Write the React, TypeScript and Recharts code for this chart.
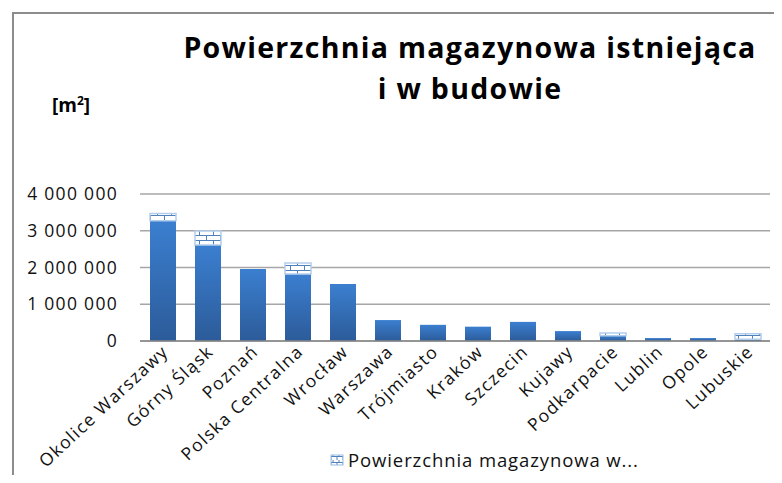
import React from "react"
import { BarChart, Bar, XAxis, YAxis, CartesianGrid, Legend } from "recharts"

const regions = [
  "Okolice Warszawy",
  "Górny Śląsk",
  "Poznań",
  "Polska Centralna",
  "Wrocław",
  "Warszawa",
  "Trójmiasto",
  "Kraków",
  "Szczecin",
  "Kujawy",
  "Podkarpacie",
  "Lublin",
  "Opole",
  "Lubuskie",
]

// istniejąca (existing)
const existing = [3270000, 2610000, 1960000, 1820000, 1550000, 570000, 440000, 390000, 520000, 270000, 140000, 80000, 80000, 50000]
// w budowie (under construction)
const underConstruction = [200000, 380000, 0, 300000, 0, 0, 0, 0, 0, 0, 80000, 0, 0, 150000]

const yTicks = [0, 1000000, 2000000, 3000000, 4000000]

const seriesExisting = "Powierzchnia magazynowa istniejąca"
const seriesBuilding = "Powierzchnia magazynowa w budowie"

const data = regions.map((name, i) => ({
  name,
  existing: existing[i],
  building: underConstruction[i],
}))

const FONT = "'Open Sans', sans-serif"

const formatNumber = (v: number) => String(v).replace(/\B(?=(\d{3})+(?!\d))/g, " ")

const RotatedTick = (props: any) => {
  const { x, y, payload } = props
  return (
    <text
      x={x + 7}
      y={y + 4}
      textAnchor="end"
      transform={`rotate(-43, ${x + 7}, ${y + 4})`}
      fontFamily={FONT}
      fontSize={17.5}
      letterSpacing={1.4}
      fill="#111"
    >
      {payload.value}
    </text>
  )
}

const LegendContent = () => (
  <div
    style={{
      display: "flex",
      alignItems: "center",
      paddingLeft: 330,
      height: 26,
      position: "relative",
      top: -6,
    }}
  >
    <svg width={15} height={13} style={{ marginRight: 3 }}>
      <rect x={1} y={1} width={12} height={10} fill="url(#brickLegend)" stroke="#9dbde3" />
    </svg>
    <span style={{ fontFamily: FONT, fontSize: 18.5, letterSpacing: 0.9, color: "#111", lineHeight: "26px" }}>
      Powierzchnia magazynowa w...
    </span>
  </div>
)

export default function App() {
  return (
    <div style={{ position: "relative", width: 782, height: 483, margin: -8, overflow: "hidden", background: "#fff" }}>
      <div
        style={{
          position: "absolute",
          left: 12,
          top: 12,
          width: 800,
          height: 500,
          border: "2px solid #8c8c8c",
        }}
      />
      <div
        style={{
          position: "absolute",
          left: 150,
          width: 640,
          top: 27,
          textAlign: "center",
          fontFamily: FONT,
          fontWeight: 700,
          fontSize: 28.5,
          letterSpacing: 1.3,
          lineHeight: "41px",
          color: "#000",
        }}
      >
        Powierzchnia magazynowa istniejąca
        <br />i w budowie
      </div>
      <div
        style={{
          position: "absolute",
          left: 52,
          top: 92,
          fontFamily: FONT,
          fontWeight: 700,
          fontSize: 19,
          color: "#000",
        }}
      >
        [m<sup style={{ fontSize: 12 }}>2</sup>]
      </div>
      <BarChart
        width={782}
        height={483}
        data={data}
        margin={{ top: 194, right: 12, left: 0, bottom: 4 }}
        barSize={26}
        style={{ position: "absolute", left: 0, top: 0 }}
      >
        <defs>
          <linearGradient id="blueFill" x1="0" y1="0" x2="0" y2="1">
            <stop offset="0%" stopColor="#3b7fd0" />
            <stop offset="100%" stopColor="#2c5b99" />
          </linearGradient>
          <pattern id="brick" width={14} height={10} patternUnits="userSpaceOnUse">
            <rect width={14} height={10} fill="#ffffff" />
            <line x1={0} y1={0.5} x2={14} y2={0.5} stroke="#4f81bd" strokeWidth={1} />
            <line x1={0} y1={5.5} x2={14} y2={5.5} stroke="#4f81bd" strokeWidth={1} />
            <line x1={3.5} y1={0} x2={3.5} y2={5} stroke="#4f81bd" strokeWidth={1} />
            <line x1={10.5} y1={5} x2={10.5} y2={10} stroke="#4f81bd" strokeWidth={1} />
          </pattern>
          <pattern id="brickLegend" width={6} height={6} patternUnits="userSpaceOnUse">
            <rect width={6} height={6} fill="#ffffff" />
            <line x1={0} y1={2.5} x2={6} y2={2.5} stroke="#4f81bd" />
            <line x1={3} y1={0} x2={3} y2={2.5} stroke="#4f81bd" />
            <line x1={1} y1={2.5} x2={1} y2={6} stroke="#4f81bd" />
          </pattern>
        </defs>
        <CartesianGrid vertical={false} stroke="#a6a6a6" strokeWidth={1.5} />
        <XAxis
          dataKey="name"
          interval={0}
          tickLine={false}
          axisLine={{ stroke: "#888", strokeWidth: 1.5 }}
          height={112}
          tick={<RotatedTick />}
        />
        <YAxis
          width={140}
          domain={[0, 4000000]}
          ticks={yTicks}
          tickLine={false}
          axisLine={false}
          tickMargin={16}
          tickFormatter={formatNumber}
          tick={{ fill: "#111", fontSize: 17.5, fontFamily: FONT, letterSpacing: 1.3 }}
        />
        <Legend verticalAlign="bottom" height={26} content={<LegendContent />} />
        <Bar
          dataKey="existing"
          name={seriesExisting}
          stackId="a"
          fill="url(#blueFill)"
          legendType="none"
          isAnimationActive={false}
        />
        <Bar
          dataKey="building"
          name={seriesBuilding}
          stackId="a"
          fill="url(#brick)"
          stroke="#b3cdec"
          strokeWidth={1.5}
          isAnimationActive={false}
        />
      </BarChart>
    </div>
  )
}
